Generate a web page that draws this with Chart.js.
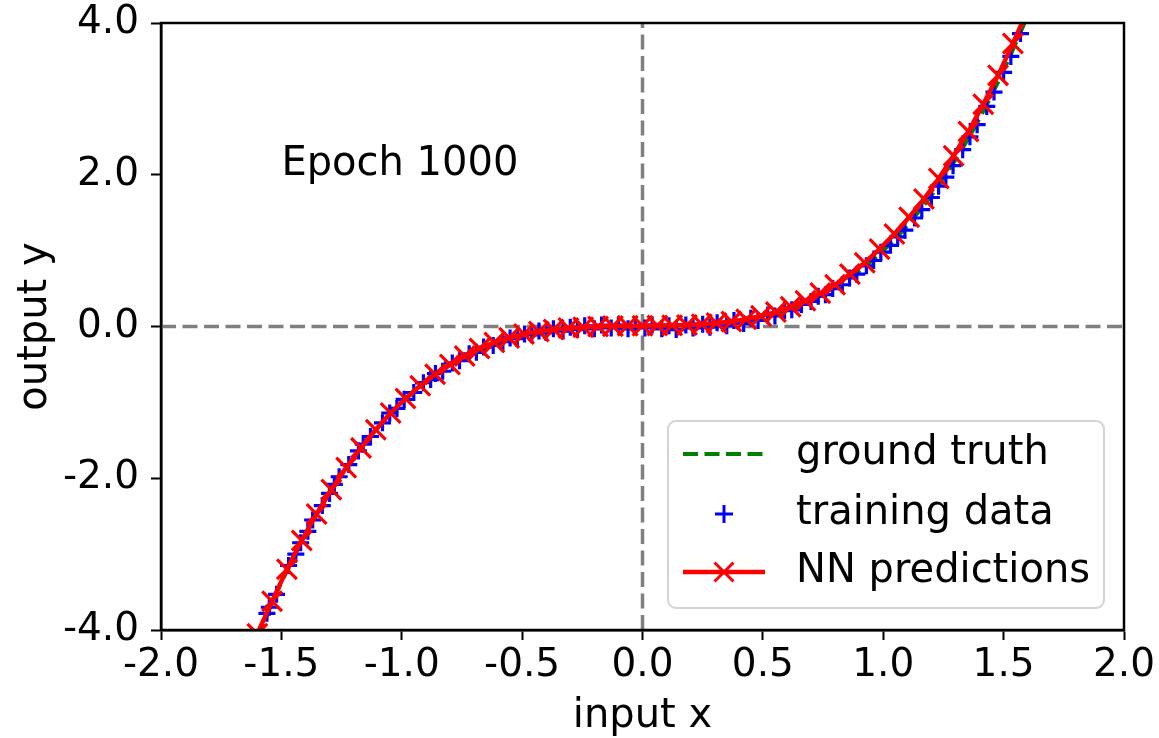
<!DOCTYPE html>
<html>
<head>
<meta charset="utf-8">
<script src="https://cdn.jsdelivr.net/npm/chart.js@4"></script>
<style>
  html, body { margin: 0; padding: 0; background: #fff; }
  #wrap { width: 1159px; height: 738px; }
</style>
</head>
<body>
<div id="wrap"><canvas id="chart" width="1159" height="738"></canvas></div>
<script>
/* Epoch 1000 fit of y = x^3: ground truth, noisy samples and NN predictions. */

const X_TICKS_LABEL = 'input x';
const Y_TICKS_LABEL = 'output y';
const EPOCH_TEXT = 'Epoch 1000';

// ground truth (green dashed)
const truthX = [-1.6, -1.5, -1.4, -1.3, -1.2, -1.1, -1.0, -0.9, -0.8, -0.7, -0.6, -0.5, -0.4, -0.3, -0.2, -0.1, 0,
  0.1, 0.2, 0.3, 0.4, 0.5, 0.6, 0.7, 0.8, 0.9, 1.0, 1.1, 1.2, 1.3, 1.4, 1.5, 1.6];
const truthY = [-4.096, -3.375, -2.744, -2.197, -1.728, -1.331, -1.0, -0.729, -0.512, -0.343, -0.216, -0.125, -0.064, -0.027, -0.008, -0.001, 0,
  0.001, 0.008, 0.027, 0.064, 0.125, 0.216, 0.343, 0.512, 0.729, 1.0, 1.331, 1.728, 2.197, 2.744, 3.375, 4.096];

// training data (blue +)
const trainX = [-1.56, -1.55, -1.52, -1.47, -1.44, -1.42, -1.39, -1.37, -1.33, -1.30, -1.28, -1.26, -1.22, -1.18, -1.16, -1.13,
  -1.08, -1.05, -1.02, -0.99, -0.95, -0.91, -0.88, -0.86, -0.83, -0.79, -0.76, -0.72, -0.69, -0.66, -0.62, -0.58,
  -0.55, -0.52, -0.49, -0.46, -0.43, -0.40, -0.37, -0.33, -0.30, -0.27, -0.24, -0.20, -0.17, -0.13, -0.10, -0.06,
  -0.03, 0.01, 0.04, 0.08, 0.11, 0.14, 0.18, 0.21, 0.25, 0.28, 0.31, 0.35, 0.38, 0.42, 0.45, 0.48,
  0.52, 0.55, 0.59, 0.62, 0.66, 0.70, 0.73, 0.76, 0.79, 0.83, 0.86, 0.89, 0.93, 0.96, 0.99, 1.03,
  1.06, 1.09, 1.13, 1.16, 1.20, 1.23, 1.26, 1.29, 1.33, 1.36, 1.39, 1.43, 1.46, 1.50, 1.53, 1.57];
const trainY = [-3.78, -3.70, -3.53, -3.15, -3.00, -2.85, -2.70, -2.55, -2.36, -2.20, -2.08, -1.98, -1.82, -1.64, -1.55, -1.45,
  -1.27, -1.14, -1.08, -0.96, -0.87, -0.74, -0.70, -0.62, -0.59, -0.48, -0.45, -0.36, -0.34, -0.27, -0.25, -0.20,
  -0.15, -0.16, -0.10, -0.11, -0.06, -0.08, -0.03, -0.06, -0.01, -0.04, 0.01, -0.03, 0.02, -0.02, 0.02, -0.03,
  0.01, -0.02, 0.02, -0.03, 0.01, -0.04, 0.02, -0.02, 0.03, -0.01, 0.05, 0.01, 0.08, 0.04, 0.11, 0.08,
  0.15, 0.14, 0.21, 0.22, 0.29, 0.33, 0.40, 0.42, 0.50, 0.55, 0.64, 0.69, 0.80, 0.87, 0.98, 1.07,
  1.18, 1.27, 1.43, 1.54, 1.70, 1.85, 1.97, 2.12, 2.33, 2.50, 2.66, 2.90, 3.09, 3.35, 3.56, 3.86];

// NN predictions (red line + x)
const predX = [-1.6, -1.5385, -1.4769, -1.4154, -1.3538, -1.2923, -1.2308, -1.1692, -1.1077, -1.0462, -0.9846, -0.9231,
  -0.8615, -0.8, -0.7385, -0.6769, -0.6154, -0.5538, -0.4923, -0.4308, -0.3692, -0.3077, -0.2462, -0.1846, -0.1231, -0.0615,
  0, 0.0615, 0.1231, 0.1846, 0.2462, 0.3077, 0.3692, 0.4308, 0.4923, 0.5538, 0.6154, 0.6769, 0.7385, 0.8,
  0.8615, 0.9231, 0.9846, 1.0462, 1.1077, 1.1692, 1.2308, 1.2923, 1.3538, 1.4154, 1.4769, 1.5385, 1.6];
const predY = [-4.05, -3.62, -3.20, -2.82, -2.47, -2.15, -1.86, -1.60, -1.36, -1.14, -0.95, -0.78,
  -0.63, -0.50, -0.39, -0.29, -0.21, -0.15, -0.10, -0.065, -0.04, -0.02, -0.01, 0.0, 0.005, 0.01,
  0.01, 0.012, 0.015, 0.02, 0.03, 0.045, 0.065, 0.095, 0.14, 0.19, 0.26, 0.34, 0.44, 0.55,
  0.69, 0.84, 1.02, 1.22, 1.44, 1.68, 1.95, 2.25, 2.57, 2.93, 3.31, 3.73, 4.17];

// reference lines at x = 0 and y = 0
const zeroLineX = [-2, 2];
const zeroLineY = [-4, 4];

const FONT = 'DejaVu Sans';
const pts = (xs, ys) => xs.map((x, i) => ({ x, y: ys[i] }));

const framePlugin = {
  id: 'frame',
  afterDraw(chart) {
    const { ctx, chartArea: a, scales } = chart;
    ctx.save();
    ctx.strokeStyle = '#000';
    ctx.lineWidth = 2.5;
    ctx.strokeRect(a.left, a.top, a.right - a.left, a.bottom - a.top);

    // epoch annotation at data coords (-1.5, 2.0)
    ctx.fillStyle = '#000';
    ctx.font = `40px "${FONT}"`;
    ctx.textAlign = 'left';
    ctx.textBaseline = 'alphabetic';
    ctx.fillText(EPOCH_TEXT, scales.x.getPixelForValue(-1.5), scales.y.getPixelForValue(2.0));

    // legend box, lower right
    const bx = 668, by = 421, bw = 436, bh = 187, r = 8;
    ctx.beginPath();
    ctx.moveTo(bx + r, by);
    ctx.arcTo(bx + bw, by, bx + bw, by + bh, r);
    ctx.arcTo(bx + bw, by + bh, bx, by + bh, r);
    ctx.arcTo(bx, by + bh, bx, by, r);
    ctx.arcTo(bx, by, bx + bw, by, r);
    ctx.closePath();
    ctx.fillStyle = 'rgba(255,255,255,0.85)';
    ctx.fill();
    ctx.strokeStyle = '#d4d4d4';
    ctx.lineWidth = 2;
    ctx.stroke();

    const x0 = 683, x1 = 765, xm = 724, tx = 796;
    const rows = [454, 514, 572];
    // ground truth
    ctx.strokeStyle = 'green';
    ctx.lineWidth = 4;
    ctx.setLineDash([15, 6.5]);
    ctx.beginPath(); ctx.moveTo(x0, rows[0]); ctx.lineTo(x1, rows[0]); ctx.stroke();
    ctx.setLineDash([]);
    // training data
    ctx.strokeStyle = 'blue';
    ctx.lineWidth = 3;
    ctx.beginPath();
    ctx.moveTo(xm - 9, rows[1]); ctx.lineTo(xm + 9, rows[1]);
    ctx.moveTo(xm, rows[1] - 9); ctx.lineTo(xm, rows[1] + 9);
    ctx.stroke();
    // NN predictions
    ctx.strokeStyle = 'red';
    ctx.lineWidth = 4.5;
    ctx.beginPath(); ctx.moveTo(x0, rows[2]); ctx.lineTo(x1, rows[2]); ctx.stroke();
    ctx.lineWidth = 3;
    ctx.beginPath();
    ctx.moveTo(xm - 9.5, rows[2] - 9.5); ctx.lineTo(xm + 9.5, rows[2] + 9.5);
    ctx.moveTo(xm - 9.5, rows[2] + 9.5); ctx.lineTo(xm + 9.5, rows[2] - 9.5);
    ctx.stroke();

    ctx.fillStyle = '#000';
    ctx.textBaseline = 'middle';
    ctx.fillText('ground truth', tx, rows[0]);
    ctx.fillText('training data', tx, rows[1]);
    ctx.fillText('NN predictions', tx, rows[2]);
    ctx.restore();
  }
};

const dashed = [15, 6.5];

new Chart(document.getElementById('chart'), {
  type: 'scatter',
  data: {
    datasets: [
      {
        label: 'NN predictions',
        data: pts(predX, predY),
        showLine: true,
        borderColor: 'red',
        borderWidth: 4.5,
        pointStyle: 'crossRot',
        pointRadius: 14,
        pointBorderWidth: 3.2,
        pointBorderColor: 'red',
        pointBackgroundColor: 'red',
        order: 0,
      },
      {
        label: 'training data',
        data: pts(trainX, trainY),
        showLine: false,
        pointStyle: 'cross',
        pointRadius: 8.5,
        pointBorderWidth: 3.2,
        pointBorderColor: 'blue',
        pointBackgroundColor: 'blue',
        order: 1,
      },
      {
        label: 'ground truth',
        data: pts(truthX, truthY),
        showLine: true,
        borderColor: 'green',
        borderWidth: 4,
        borderDash: dashed,
        cubicInterpolationMode: 'monotone',
        pointRadius: 0,
        order: 2,
      },
      {
        label: 'y0',
        data: pts(zeroLineX, [0, 0]),
        showLine: true,
        borderColor: 'gray',
        borderWidth: 3.5,
        borderDash: dashed,
        pointRadius: 0,
        order: 3,
      },
      {
        label: 'x0',
        data: pts([0, 0], zeroLineY),
        showLine: true,
        borderColor: 'gray',
        borderWidth: 3.5,
        borderDash: dashed,
        pointRadius: 0,
        order: 3,
      },
    ],
  },
  options: {
    responsive: false,
    animation: false,
    events: [],
    layout: { padding: { left: 0, top: 23, right: 35, bottom: 0 } },
    plugins: { legend: { display: false }, tooltip: { enabled: false } },
    scales: {
      x: {
        type: 'linear',
        min: -2, max: 2,
        afterFit(scale) { scale.height = 108; },
        ticks: {
          stepSize: 0.5,
          color: '#000',
          padding: 2,
          maxRotation: 0,
          font: { family: FONT, size: 39 },
          callback: (v) => v.toFixed(1),
        },
        grid: { drawOnChartArea: false, tickLength: 10, tickWidth: 2, color: '#000' },
        border: { display: true, color: '#000', width: 2.5 },
        title: { display: true, text: X_TICKS_LABEL, color: '#000', font: { family: FONT, size: 40 }, padding: { top: 0, bottom: -3 } },
      },
      y: {
        type: 'linear',
        min: -4, max: 4,
        afterFit(scale) {
          scale.width = 161;
          scale.paddingTop = 0;
          scale.paddingBottom = 0;
        },
        ticks: {
          stepSize: 2,
          color: '#000',
          padding: 12,
          font: { family: FONT, size: 39 },
          callback: (v) => v.toFixed(1),
        },
        grid: { drawOnChartArea: false, tickLength: 10, tickWidth: 2, color: '#000' },
        border: { display: true, color: '#000', width: 2.5 },
        title: { display: true, text: Y_TICKS_LABEL, color: '#000', font: { family: FONT, size: 40 }, padding: { top: 12, bottom: 0 } },
      },
    },
  },
  plugins: [framePlugin],
});
</script>
</body>
</html>
